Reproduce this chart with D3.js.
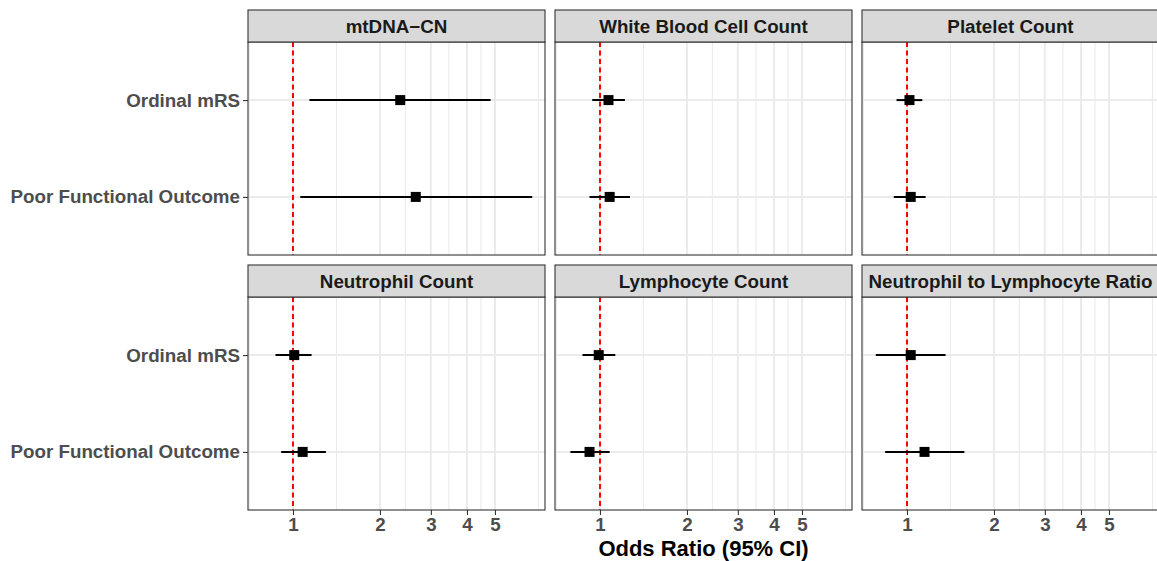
<!DOCTYPE html>
<html>
<head>
<meta charset="utf-8">
<script src="https://cdn.jsdelivr.net/npm/d3@7"></script>
<style>
  body { margin: 0; background: #fff; }
  svg text { font-family: "Liberation Sans", Arial, sans-serif; font-weight: bold; }
</style>
</head>
<body>
<div class="canvas-container"></div>
<script>
const panels = [
  "mtDNA\u2212CN",
  "White Blood Cell Count",
  "Platelet Count",
  "Neutrophil Count",
  "Lymphocyte Count",
  "Neutrophil to Lymphocyte Ratio",
]
const outcomes = ["Ordinal mRS", "Poor Functional Outcome"]

// odds ratio per panel: [Ordinal mRS, Poor Functional Outcome]
const orEstimate = [[2.35, 2.66], [1.07, 1.08], [1.02, 1.03], [1.01, 1.08], [0.99, 0.92], [1.03, 1.15]]
const ciLower = [[1.14, 1.06], [0.94, 0.92], [0.92, 0.90], [0.87, 0.91], [0.87, 0.79], [0.78, 0.84]]
const ciUpper = [[4.83, 6.73], [1.22, 1.27], [1.13, 1.16], [1.16, 1.30], [1.13, 1.08], [1.36, 1.58]]

const xTicks = [1, 2, 3, 4, 5]
const xMinor = [0.707, 1.414, 2.449, 3.464, 4.472, 7.071]
const xDomain = [0.6987, 7.45]

const W = 1157
const H = 561
const pw = 297
const ph = 213
const stripH = 32
const colX = [248, 555, 862]
const rowY = [10, 265]
const textSize = "18.8px"

const svg = d3
  .select(".canvas-container")
  .append("svg")
  .attr("width", W)
  .attr("height", H)

const x = d3.scaleLog().domain(xDomain).range([0, pw])
const y = d3.scalePoint().domain(outcomes).range([0, ph]).padding(0.6)

panels.forEach((name, p) => {
  const col = p % 3
  const row = Math.floor(p / 3)
  const g = svg
    .append("g")
    .attr("transform", `translate(${colX[col]},${rowY[row] + stripH})`)

  // strip
  svg
    .append("rect")
    .attr("x", colX[col])
    .attr("y", rowY[row])
    .attr("width", pw)
    .attr("height", stripH)
    .attr("fill", "#d9d9d9")
    .attr("stroke", "#333")
    .attr("stroke-width", 1.1)
  svg
    .append("text")
    .attr("x", colX[col] + pw / 2)
    .attr("y", rowY[row] + stripH / 2 + 6.5)
    .attr("text-anchor", "middle")
    .attr("fill", "#1a1a1a")
    .style("font-size", textSize)
    .text(name)

  // grid
  g.selectAll(".minor")
    .data(xMinor)
    .enter()
    .append("line")
    .attr("x1", (d) => x(d))
    .attr("x2", (d) => x(d))
    .attr("y1", 0)
    .attr("y2", ph)
    .attr("stroke", "#ebebeb")
    .attr("stroke-width", 1.1)
  g.selectAll(".major")
    .data(xTicks)
    .enter()
    .append("line")
    .attr("x1", (d) => x(d))
    .attr("x2", (d) => x(d))
    .attr("y1", 0)
    .attr("y2", ph)
    .attr("stroke", "#ebebeb")
    .attr("stroke-width", 2)
  g.selectAll(".hgrid")
    .data(outcomes)
    .enter()
    .append("line")
    .attr("x1", 0)
    .attr("x2", pw)
    .attr("y1", (d) => y(d))
    .attr("y2", (d) => y(d))
    .attr("stroke", "#ebebeb")
    .attr("stroke-width", 2)

  // reference line at OR = 1
  g.append("line")
    .attr("x1", x(1))
    .attr("x2", x(1))
    .attr("y1", 0)
    .attr("y2", ph)
    .attr("stroke", "#ff0000")
    .attr("stroke-width", 2)
    .attr("stroke-dasharray", "5,3.5")

  const rows = outcomes.map((o, i) => ({
    o,
    est: orEstimate[p][i],
    lo: ciLower[p][i],
    hi: ciUpper[p][i],
  }))

  g.selectAll(".ci")
    .data(rows)
    .enter()
    .append("line")
    .attr("x1", (d) => x(d.lo))
    .attr("x2", (d) => x(d.hi))
    .attr("y1", (d) => y(d.o))
    .attr("y2", (d) => y(d.o))
    .attr("stroke", "#000")
    .attr("stroke-width", 2)

  g.selectAll(".pt")
    .data(rows)
    .enter()
    .append("rect")
    .attr("x", (d) => x(d.est) - 5)
    .attr("y", (d) => y(d.o) - 5)
    .attr("width", 10)
    .attr("height", 10)
    .attr("fill", "#000")

  // panel border
  g.append("rect")
    .attr("width", pw)
    .attr("height", ph)
    .attr("fill", "none")
    .attr("stroke", "#333")
    .attr("stroke-width", 1.1)

  if (col === 0) {
    const ya = g.append("g").call(d3.axisLeft(y).tickSize(5).tickPadding(3))
    ya.select(".domain").remove()
    ya.selectAll("line").attr("stroke", "#333").attr("stroke-width", 1.1)
    ya.selectAll("text")
      .attr("fill", "#4d4d4d")
      .style("font-size", textSize)
      .style("font-family", "'Liberation Sans', Arial, sans-serif")
  }
  if (row === 1) {
    const xa = g
      .append("g")
      .attr("transform", `translate(0,${ph})`)
      .call(d3.axisBottom(x).tickValues(xTicks).tickFormat(d3.format("d")).tickSize(5).tickPadding(3))
    xa.select(".domain").remove()
    xa.selectAll("line").attr("stroke", "#333").attr("stroke-width", 1.1)
    xa.selectAll("text")
      .attr("fill", "#4d4d4d")
      .style("font-size", textSize)
      .style("font-family", "'Liberation Sans', Arial, sans-serif")
  }
})

svg
  .append("text")
  .attr("x", colX[1] + pw / 2)
  .attr("y", 556)
  .attr("text-anchor", "middle")
  .attr("fill", "#000")
  .style("font-size", "22px")
  .text("Odds Ratio (95% CI)")
</script>
</body>
</html>
